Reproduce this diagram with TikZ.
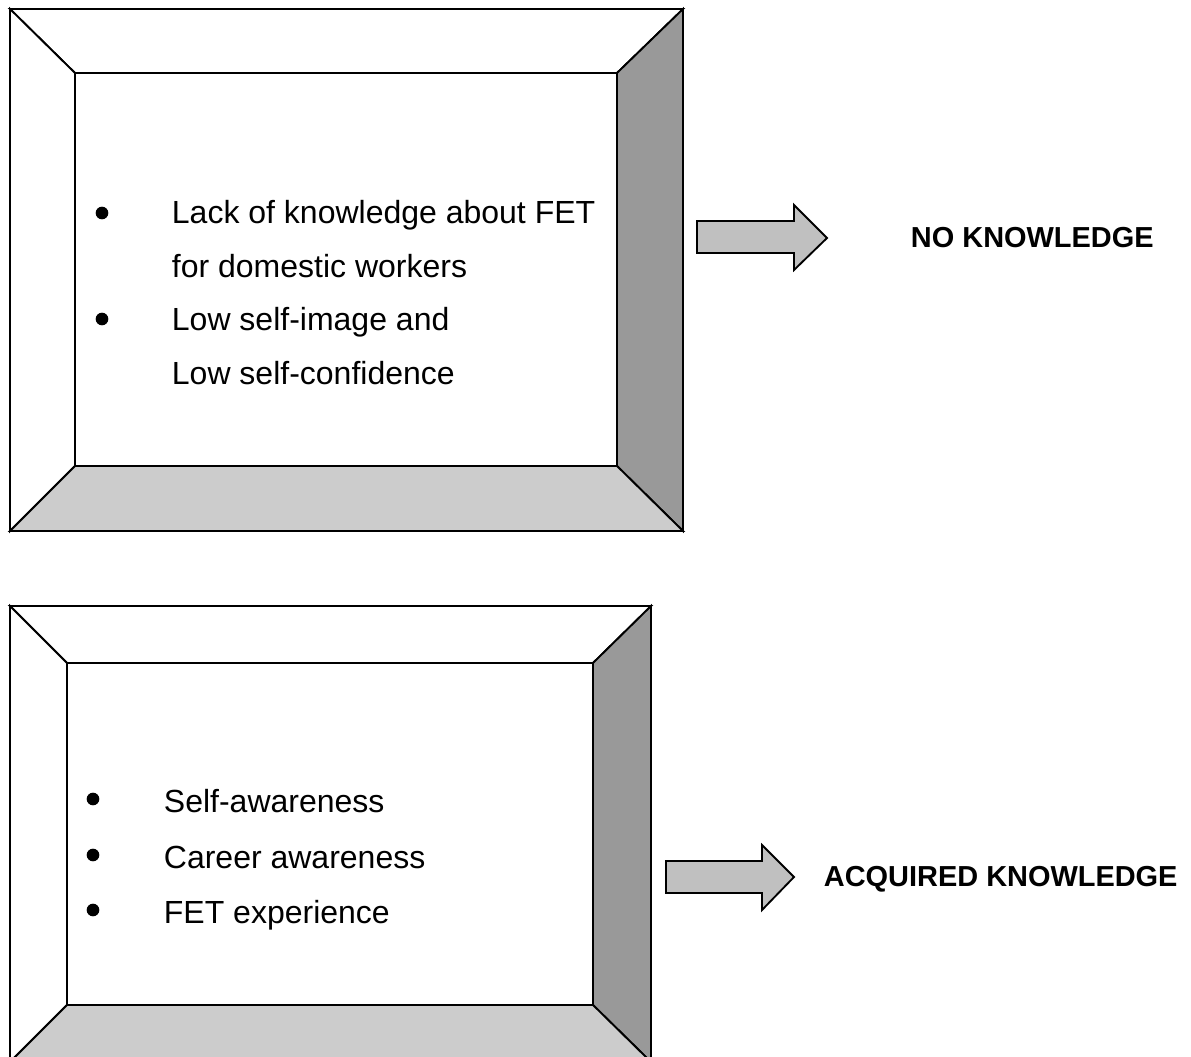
\documentclass[tikz,border=0pt]{standalone}
\usepackage{fontspec}
\setmainfont{Liberation Sans}
\usepackage{tikz}
\usetikzlibrary{positioning}
\definecolor{bevelgrey}{HTML}{999999}
\definecolor{bevellight}{HTML}{CCCCCC}
\definecolor{arrowgrey}{HTML}{C0C0C0}

\begin{document}
\begin{tikzpicture}[x=0.75pt,y=-0.75pt, line width=1.4pt,
  item/.style={anchor=base west,inner sep=0pt,font=\fontsize{24}{28}\selectfont},
  dot/.style={circle,fill=black,inner sep=0pt,minimum size=9.5pt},
  result/.style={anchor=base west,inner sep=0pt,font=\fontsize{21.7}{26}\selectfont\bfseries}]
\useasboundingbox (0,0) rectangle (1191,1056);
\begin{scope}
\clip (0,0) rectangle (1191,1056);
% bevelled frames: outer corners, then inner corners
\foreach \ox/\oy/\px/\py/\ix/\iy/\jx/\jy in {10/9/683/531/75/73/617/466, 10/606/651/1062/67/663/593/1005} {
  \filldraw[fill=white] (\ox,\oy) -- (\px,\oy) -- (\jx,\iy) -- (\ix,\iy) -- cycle;
  \filldraw[fill=white] (\ox,\oy) -- (\ix,\iy) -- (\ix,\jy) -- (\ox,\py) -- cycle;
  \filldraw[fill=bevelgrey] (\px,\oy) -- (\px,\py) -- (\jx,\jy) -- (\jx,\iy) -- cycle;
  \filldraw[fill=bevellight] (\ox,\py) -- (\px,\py) -- (\jx,\jy) -- (\ix,\jy) -- cycle;
}
\end{scope}
% block arrows
\filldraw[fill=arrowgrey] (697,221) -- (794,221) -- (794,205) -- (827,238) -- (794,270) -- (794,253) -- (697,253) -- cycle;
\filldraw[fill=arrowgrey] (666,861) -- (762,861) -- (762,845) -- (794,877) -- (762,910) -- (762,893) -- (666,893) -- cycle;
% first frame
\node[dot] (lackdot) at (102,213) {};
\node[item] (lack) at (171,223) {Lack of knowledge about FET};
\node[item] (lackb) at (171,277) {for domestic workers};
\node[dot] (lowdot) at (102,319) {};
\node[item] (low) at (171,330) {Low self-image and};
\node[item] (lowb) at (171,384) {Low self-confidence};
\node[result] (noknow) at (910,247) {NO KNOWLEDGE};
% second frame
\foreach \t/\y [count=\i] in {Self-awareness/812, Career awareness/868, FET experience/923} {
  \node[dot] (gaindot\i) at (93,\y-13) {};
  \node[item] (gain\i) at (163,\y) {\t};
}
\node[result] (acquired) at (823,886) {ACQUIRED KNOWLEDGE};
\end{tikzpicture}
\end{document}
